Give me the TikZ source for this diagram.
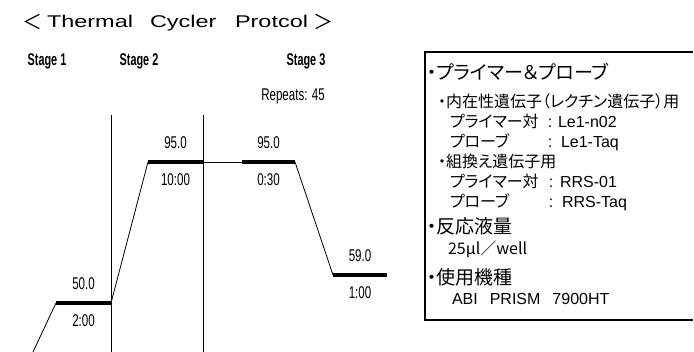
\documentclass[tikz,border=0pt]{standalone}
\usepackage{fontspec}
\setmainfont{Liberation Sans}
\newfontfamily\narrowfont[FakeStretch=0.68]{Liberation Sans}
\newfontfamily\stagefont[FakeStretch=0.64]{Liberation Sans}
\newfontfamily\titlefont[FakeStretch=1.38]{Liberation Sans}
\newfontfamily\jpfont[RawFeature=+palt]{Noto Sans CJK JP}
\newcommand{\fsz}[1]{\fontsize{#1}{#1}\selectfont}

\begin{document}
\begin{tikzpicture}[x=1pt, y=-1pt,
  every node/.style={inner sep=0pt, outer sep=0pt},
  hold/.style={line width=4pt},
  ramp/.style={line width=0.8pt},
  temp/.style={font=\narrowfont\fsz{17}},
  stagelabel/.style={anchor=base, font=\stagefont\bfseries\fsz{17}},
  headline/.style={anchor=base west, font=\jpfont\fsz{19}},
  subline/.style={anchor=base west, font=\jpfont\fsz{16}},
  valueline/.style={anchor=base west, font=\fsz{16}}]
\newcommand{\Tup}{19.5pt} % temperature above a hold
\newcommand{\Tdn}{-17.5pt} % time below a hold

\useasboundingbox (0,0) rectangle (694,352);

% title
\node (TL) at (33,22) {\jpfont\fsz{20}＜};
\node[anchor=base west, font=\titlefont\fsz{17}] (Th) at (47,28) {Thermal};
\node[anchor=base west, font=\titlefont\fsz{17}] (Cy) at (150,28) {Cycler};
\node[anchor=base west, font=\titlefont\fsz{17}] (Pr) at (235,28) {Protcol};
\node (TR) at (323,22) {\jpfont\fsz{20}＞};

% stages
\node[stagelabel] (S1) at (47,66) {Stage 1};
\node[stagelabel] (S2) at (139,66) {Stage 2};
\node[stagelabel] (S3) at (306,66) {Stage 3};
\node[anchor=base, font=\narrowfont\fsz{17}] (Rep) at (293,101) {Repeats: 45};

\coordinate (V1t) at (111,115);
\coordinate (V1b) at (111,352);
\coordinate (V2t) at (203,115);
\coordinate (V2b) at (203,352);
%

\coordinate (A0) at (33,352); % start of ramp
\coordinate (A1) at (56,303);
\coordinate (A2) at (111,303);
\coordinate (B1) at (148,162);
\coordinate (B2) at (203,162);
\coordinate (C1) at (242,162);
\coordinate (C2) at (295,162);
\coordinate (D1) at (333,275);
\coordinate (D2) at (387,275);

% stage borders
\draw[ramp] (V1t) -- (V1b);
\draw[ramp] (V2t) -- (V2b);

% profile
\draw[ramp] (A0) -- (A1);
\draw[hold] (A1) -- (A2) node[midway, yshift=\Tup, temp] (T1) {50.0}
                         node[midway, yshift=\Tdn, temp] (t1) {2:00};
\draw[ramp] (A2) -- (B1);
\draw[hold] (B1) -- (B2) node[midway, yshift=\Tup, temp] (T2) {95.0}
                         node[midway, yshift=\Tdn, temp] (t2) {10:00};
\draw[ramp] (B2) -- (C1);
\draw[hold] (C1) -- (C2) node[midway, yshift=\Tup, temp] (T3) {95.0}
                         node[midway, yshift=\Tdn, temp] (t3) {0:30};
\draw[ramp] (C2) -- (D1);
\draw[hold] (D1) -- (D2) node[midway, yshift=\Tup, temp] (T4) {59.0}
                         node[midway, yshift=\Tdn, temp] (t4) {1:00};

% conditions box (right side runs off the picture)
\draw[line width=1.4pt] (693,52) -- (425,52) -- (425,320) -- (693,320);

\node[headline] (H1) at (427,79.5) {・プライマー＆プローブ};
\node[subline] (E0) at (438,107.5) {・内在性遺伝子（レクチン遺伝子）用};
\node[subline] (E1) at (450,127.5) {プライマー対};
\node[valueline, anchor=base] (E1c) at (550,127.5) {:};
\node[valueline] (E1v) at (558,127.5) {Le1-n02};
\node[subline] (E2) at (450,147.5) {プローブ};
\node[valueline, anchor=base] (E2c) at (550,147.5) {:};
\node[valueline] (E2v) at (561,147.5) {Le1-Taq};
\node[subline] (R0) at (438,167.5) {・組換え遺伝子用};
\node[subline] (R1) at (450,187.5) {プライマー対};
\node[valueline, anchor=base] (R1c) at (551,187.5) {:};
\node[valueline] (R1v) at (560,187.5) {RRS-01};
\node[subline] (R2) at (450,207.5) {プローブ};
\node[valueline, anchor=base] (R2c) at (551,207.5) {:};
\node[valueline] (R2v) at (562,207.5) {RRS-Taq};
\node[headline] (H2) at (427,233.5) {・反応液量};
\node[subline] (Vol) at (448,254.5) {25μl／well};
\node[headline] (H3) at (427,284.5) {・使用機種};
\node[valueline] (Ins) at (452,304.5) {ABI\hspace{12pt}PRISM\hspace{12pt}7900HT};
\end{tikzpicture}
\end{document}
